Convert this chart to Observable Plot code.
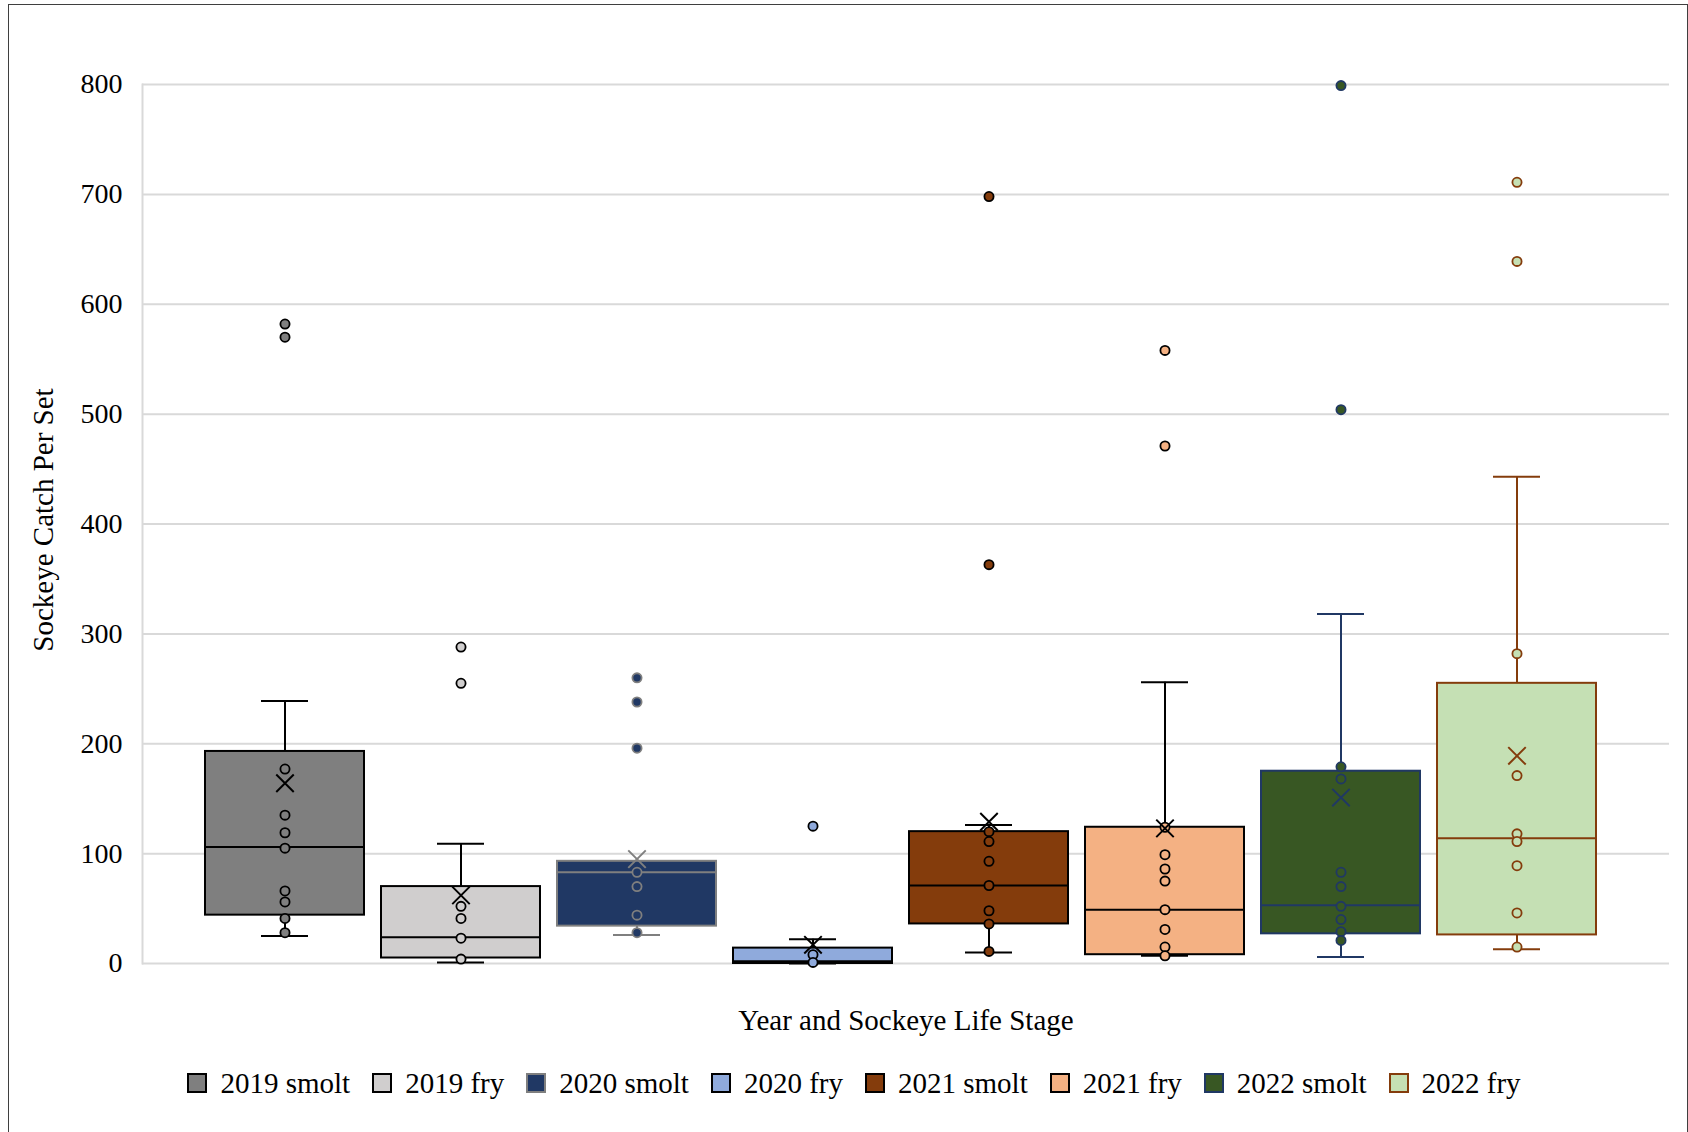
<!DOCTYPE html>
<html>
<head>
<meta charset="utf-8">
<script src="https://cdn.jsdelivr.net/npm/d3@7"></script>
<script src="https://cdn.jsdelivr.net/npm/@observablehq/plot@0.6"></script>
<style>
  html, body { margin: 0; padding: 0; background: #fff; overflow: hidden; }
  #wrap { position: relative; width: 1688px; height: 1132px; font-family: "Liberation Serif", "Times New Roman", serif; }
  #border { position: absolute; left: 8px; top: 4px; width: 1680px; height: 1200px; box-sizing: border-box; border: 1.5px solid #3f3f3f; pointer-events: none; }
  #chart { position: absolute; left: 0; top: 0; }
  #legend { position: absolute; left: 8px; top: 1067px; width: 1680px; height: 32px; display: flex; justify-content: center; align-items: center; padding-left: 12px; box-sizing: border-box; font-size: 29px; color: #000; }
  .item { display: flex; align-items: center; margin: 0 11px; white-space: nowrap; }
  .sw { width: 20px; height: 20px; box-sizing: border-box; border: 2px solid #000; margin-right: 13px; }
</style>
</head>
<body>
<div id="wrap">
  <div id="chart"></div>
  <div id="legend"></div>
  <div id="border"></div>
</div>
<script>
// ---- data ----
const series = ["2019 smolt", "2019 fry", "2020 smolt", "2020 fry", "2021 smolt", "2021 fry", "2022 smolt", "2022 fry"];
const fills = ["#7f7f7f", "#d0cece", "#203864", "#8faadc", "#843c0c", "#f4b183", "#385723", "#c5e0b4"];
const strokes = ["#000000", "#000000", "#7f7f7f", "#000000", "#000000", "#000000", "#203864", "#843c0c"];
const whiskerLow = [25, 1, 26, 0, 10, 7, 6, 13];
const q1 = [44, 5, 34, 0, 36, 8, 27, 26];
const median = [106, 24, 83, 2, 71, 49, 53, 114];
const q3 = [193, 70, 93, 14, 120, 124, 175, 255];
const whiskerHigh = [239, 109, 93, 22, 126, 256, 318, 443];
const mean = [164, 62, 95, 17, 129, 123, 151, 189];
const points = [
  [582, 570, 177, 135, 119, 105, 66, 56, 41, 28],
  [288, 255, 52, 41, 23, 4],
  [260, 238, 196, 83, 70, 44, 28],
  [125, 8, 1],
  [698, 363, 120, 111, 93, 71, 48, 36, 11],
  [558, 471, 124, 99, 86, 75, 49, 31, 15, 7],
  [799, 504, 179, 168, 83, 70, 52, 40, 29, 21],
  [711, 639, 282, 171, 118, 111, 89, 46, 15]
];
const yTicks = [0, 100, 200, 300, 400, 500, 600, 700, 800];
const yTitle = "Sockeye Catch Per Set";
const xTitle = "Year and Sockeye Life Stage";

// ---- tables built from arrays ----
const boxes = series.map((s, i) => ({
  series: s, fill: fills[i], stroke: strokes[i],
  low: whiskerLow[i], q1: q1[i], median: median[i], q3: q3[i], high: whiskerHigh[i], mean: mean[i]
}));
const dots = series.flatMap((s, i) => points[i].map(v => ({series: s, value: v, fill: fills[i], stroke: strokes[i]})));

const W = 1688, H = 1040;
const chart = Plot.plot({
  width: W,
  height: H,
  marginLeft: 142,
  marginRight: 19,
  marginTop: 84,
  marginBottom: H - 963,
  style: {fontFamily: "Liberation Serif, Times New Roman, serif", fontSize: "28px", color: "#000", background: "transparent"},
  x: {domain: series, paddingInner: 0.098, paddingOuter: 0.38, align: 0.46, axis: null},
  y: {domain: [0, 800], axis: null},
  color: {type: "identity"},
  marks: [
    Plot.gridY(yTicks, {stroke: "#d9d9d9", strokeOpacity: 1, strokeWidth: 2}),
    Plot.frame({anchor: "left", stroke: "#d9d9d9", strokeOpacity: 1, strokeWidth: 2}),
    Plot.axisY(yTicks, {tickSize: 0, tickPadding: 20, fontSize: 28, label: null}),
    Plot.ruleX(boxes, {x: "series", y1: "q3", y2: "high", stroke: "stroke", strokeWidth: 2}),
    Plot.ruleX(boxes, {x: "series", y1: "low", y2: "q1", stroke: "stroke", strokeWidth: 2}),
    Plot.tickY(boxes, {x: "series", y: "high", stroke: "stroke", strokeWidth: 2, insetLeft: 56, insetRight: 56}),
    Plot.tickY(boxes, {x: "series", y: "low", stroke: "stroke", strokeWidth: 2, insetLeft: 56, insetRight: 56}),
    Plot.barY(boxes, {x: "series", y1: "q1", y2: "q3", fill: "fill", stroke: "stroke", strokeWidth: 2}),
    Plot.tickY(boxes, {x: "series", y: "median", stroke: "stroke", strokeWidth: 2}),
    Plot.dot(dots, {x: "series", y: "value", r: 4.6, fill: "fill", stroke: "stroke", strokeWidth: 1.8}),
    Plot.dot(boxes, {x: "series", y: "mean", symbol: "times", r: 8, stroke: "stroke", strokeWidth: 2}),
    Plot.text([yTitle], {text: d => d, frameAnchor: "left", textAnchor: "middle", lineAnchor: "middle", rotate: -90, dx: -99, dy: -4, fontSize: 29, fill: "#000"}),
    Plot.text([xTitle], {text: d => d, frameAnchor: "bottom", textAnchor: "middle", lineAnchor: "middle", dy: 57, fontSize: 29, fill: "#000"})
  ]
});
document.getElementById("chart").appendChild(chart);

// ---- legend ----
const legend = document.getElementById("legend");
series.forEach((s, i) => {
  const item = document.createElement("div");
  item.className = "item";
  const sw = document.createElement("span");
  sw.className = "sw";
  sw.style.background = fills[i];
  sw.style.borderColor = strokes[i];
  const t = document.createElement("span");
  t.textContent = s;
  item.appendChild(sw);
  item.appendChild(t);
  legend.appendChild(item);
});
</script>
</body>
</html>
